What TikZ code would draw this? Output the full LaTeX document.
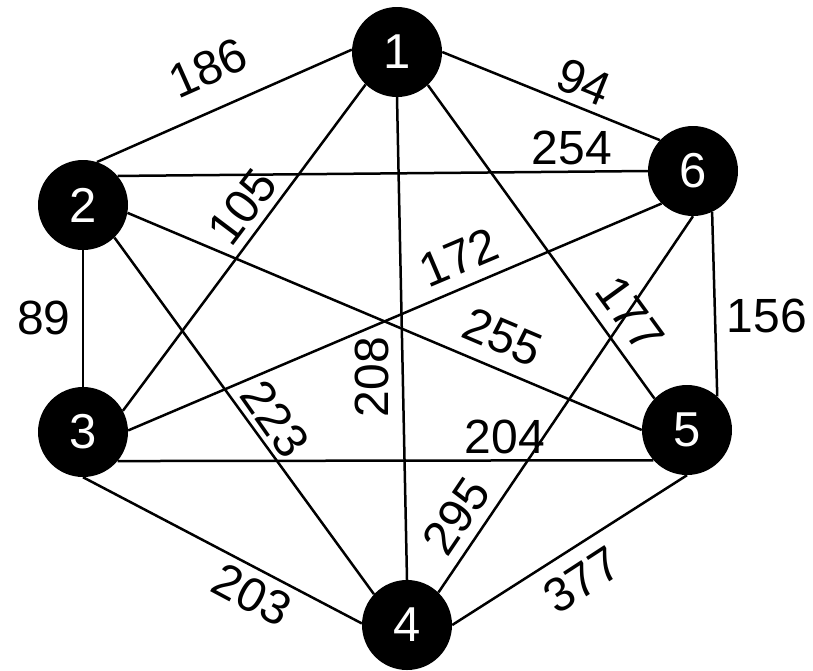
\documentclass[tikz,border=0pt]{standalone}
\usepackage{fontspec}
\setmainfont{Liberation Sans}
\begin{document}
\begin{tikzpicture}[x=1pt,y=-1pt,
  vertex/.style={circle,fill=black,draw=none,minimum size=90pt,inner sep=0pt,
    text=white,font=\fontsize{49}{58}\selectfont},
  weight/.style={inner sep=0pt,font=\fontsize{48}{58}\selectfont},
  edge/.style={line width=2.5pt}]
\useasboundingbox (0,0) rectangle (813,670);
\node[vertex] (n1) at (397,52) {1};
\node[vertex] (n2) at (83,205) {2};
\node[vertex] (n3) at (83,432) {3};
\node[vertex] (n4) at (407,625) {4};
\node[vertex] (n5) at (687,430) {5};
\node[vertex] (n6) at (693,171) {6};
\draw[edge] (n1.177) -- (n2.72);
\draw[edge] (n1.0) -- (n6.137);
\draw[edge] (n1.-134) -- (n3.28);
\draw[edge] (n1.-90) -- (n4.90);
\draw[edge] (n1.-47) -- (n5.136);
\draw[edge] (n2.40) -- (n6.180);
\draw[edge] (n2.-10) -- (n5.180);
\draw[edge] (n2.-46) -- (n4.137);
\draw[edge] (n2.-90) -- (n3.90);
\draw[edge] (n3.2) -- (n6.-134);
\draw[edge] (n3.-40) -- (n5.-138);
\draw[edge] (n3.-90) -- (n4.178);
\draw[edge] (n4.46) -- (n6.-90);
\draw[edge] (n4.0) -- (n5.-90);
\draw[edge] (n5.48) -- (n6.-65);
\node[weight,rotate=24] (w12) at (208,68) {186};
\node[weight,rotate=-22] (w16) at (584,82) {94};
\node[weight] (w26) at (572,148) {254};
\node[weight,rotate=53] (w13) at (242,207) {105};
\node[weight,rotate=23] (w36) at (459,257) {172};
\node[weight,rotate=-23] (w25) at (503,337) {255};
\node[weight,rotate=-54] (w15) at (630,314) {177};
\node[weight] (w56) at (767,316) {156};
\node[weight] (w23) at (44,318) {89};
\node[weight,rotate=90] (w14) at (372,377) {208};
\node[weight,rotate=-55] (w24) at (275,419) {223};
\node[weight] (w35) at (505,437) {204};
\node[weight,rotate=56] (w46) at (456,516) {295};
\node[weight,rotate=-28] (w34) at (252,595) {203};
\node[weight,rotate=33] (w45) at (582,580) {377};
\end{tikzpicture}
\end{document}
